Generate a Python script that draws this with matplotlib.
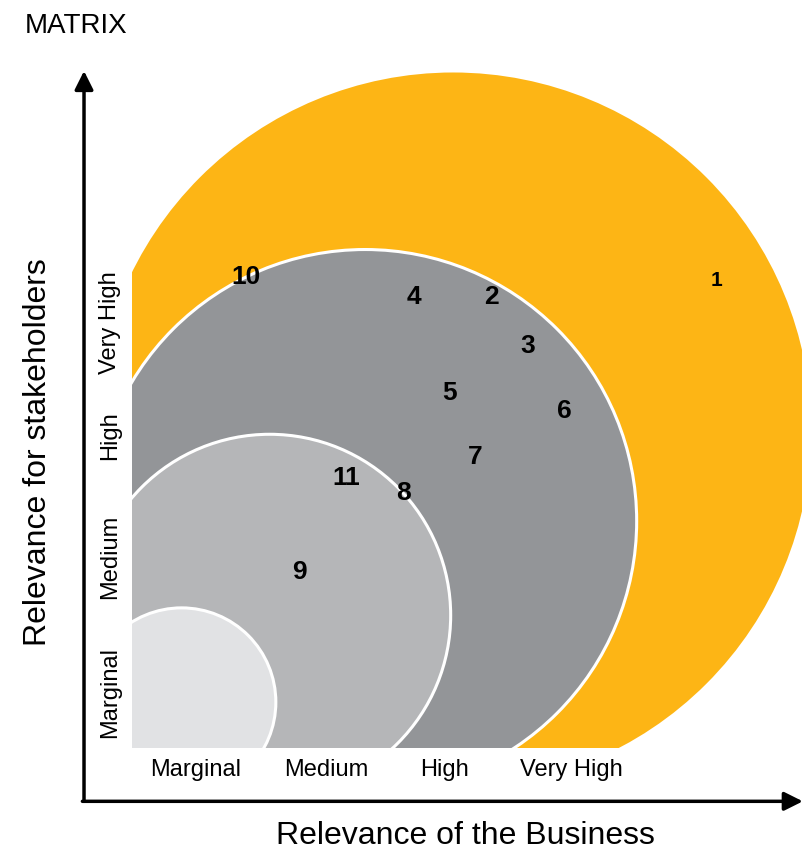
import matplotlib.pyplot as plt
from matplotlib.patches import Circle, Rectangle

plt.rcParams['font.family'] = ['Liberation Sans', 'DejaVu Sans']

# rating levels on both axes
levels = ['Marginal', 'Medium', 'High', 'Very High']
level_pos_x = [0.51, 1.57, 2.52, 3.54]
level_pos_y = [0.45, 1.54, 2.52, 3.43]

# materiality zones (centre x, centre y, radius), largest first
zone_x = [2.59, 1.88, 1.11, 0.40]
zone_y = [2.56, 1.83, 1.07, 0.37]
zone_r = [2.90, 2.19, 1.46, 0.76]
zone_colors = ['#FDB515', '#939598', '#B5B6B8', '#E1E2E4']

# topics: business relevance (x), stakeholder relevance (y)
topic_ids = ['1', '2', '3', '4', '5', '6', '7', '8', '9', '10', '11']
topic_business = [4.71, 2.90, 3.19, 2.27, 2.56, 3.49, 2.77, 2.19, 1.35, 0.92, 1.73]
topic_stakeholders = [3.77, 3.64, 3.24, 3.64, 2.86, 2.72, 2.35, 2.06, 1.42, 3.80, 2.18]

fig = plt.figure(figsize=(8.03, 8.55), dpi=100)
ax = fig.add_axes([0, 0, 1, 1])
ax.set_xlim(-132 / 124, 671 / 124)
ax.set_ylim(-107 / 124, 748 / 124)
ax.axis('off')

# clip all zones to the positive quadrant
clip = Rectangle((0, 0), 10, 10, transform=ax.transData)
for x, y, r, c in zip(zone_x, zone_y, zone_r, zone_colors):
    circ = Circle((x, y), r, facecolor=c, edgecolor='white', lw=2.2)
    ax.add_patch(circ)
    circ.set_clip_path(clip)

# topic numbers
for t, x, y in zip(topic_ids, topic_business, topic_stakeholders):
    size = 15 if t == '1' else 19
    ax.text(x, y, t, ha='center', va='center', fontsize=size,
            fontweight='bold', color='black')

# axes with arrows
ax.annotate('', xy=(-0.387, 5.46), xytext=(-0.387, -0.43),
            arrowprops=dict(arrowstyle='-|>', lw=2.5, color='black',
                            mutation_scale=28, shrinkA=0, shrinkB=0),
            annotation_clip=False)
ax.annotate('', xy=(5.41, -0.43), xytext=(-0.4, -0.43),
            arrowprops=dict(arrowstyle='-|>', lw=2.5, color='black',
                            mutation_scale=28, shrinkA=0, shrinkB=0),
            annotation_clip=False)

# category labels
for lab, px, py in zip(levels, level_pos_x, level_pos_y):
    ax.text(px, -0.18, lab, ha='center', va='center', fontsize=17)
    ax.text(-0.18, py, lab, ha='center', va='center', fontsize=17, rotation=90)

ax.text(2.69, -0.71, 'Relevance of the Business', ha='center', va='center',
        fontsize=23)
ax.text(-0.755, 2.39, 'Relevance for stakeholders', ha='center', va='center',
        fontsize=23, rotation=90)
ax.text(-0.865, 5.77, 'MATRIX', ha='left', va='baseline', fontsize=20)

fig.savefig('out.png', dpi=100)
